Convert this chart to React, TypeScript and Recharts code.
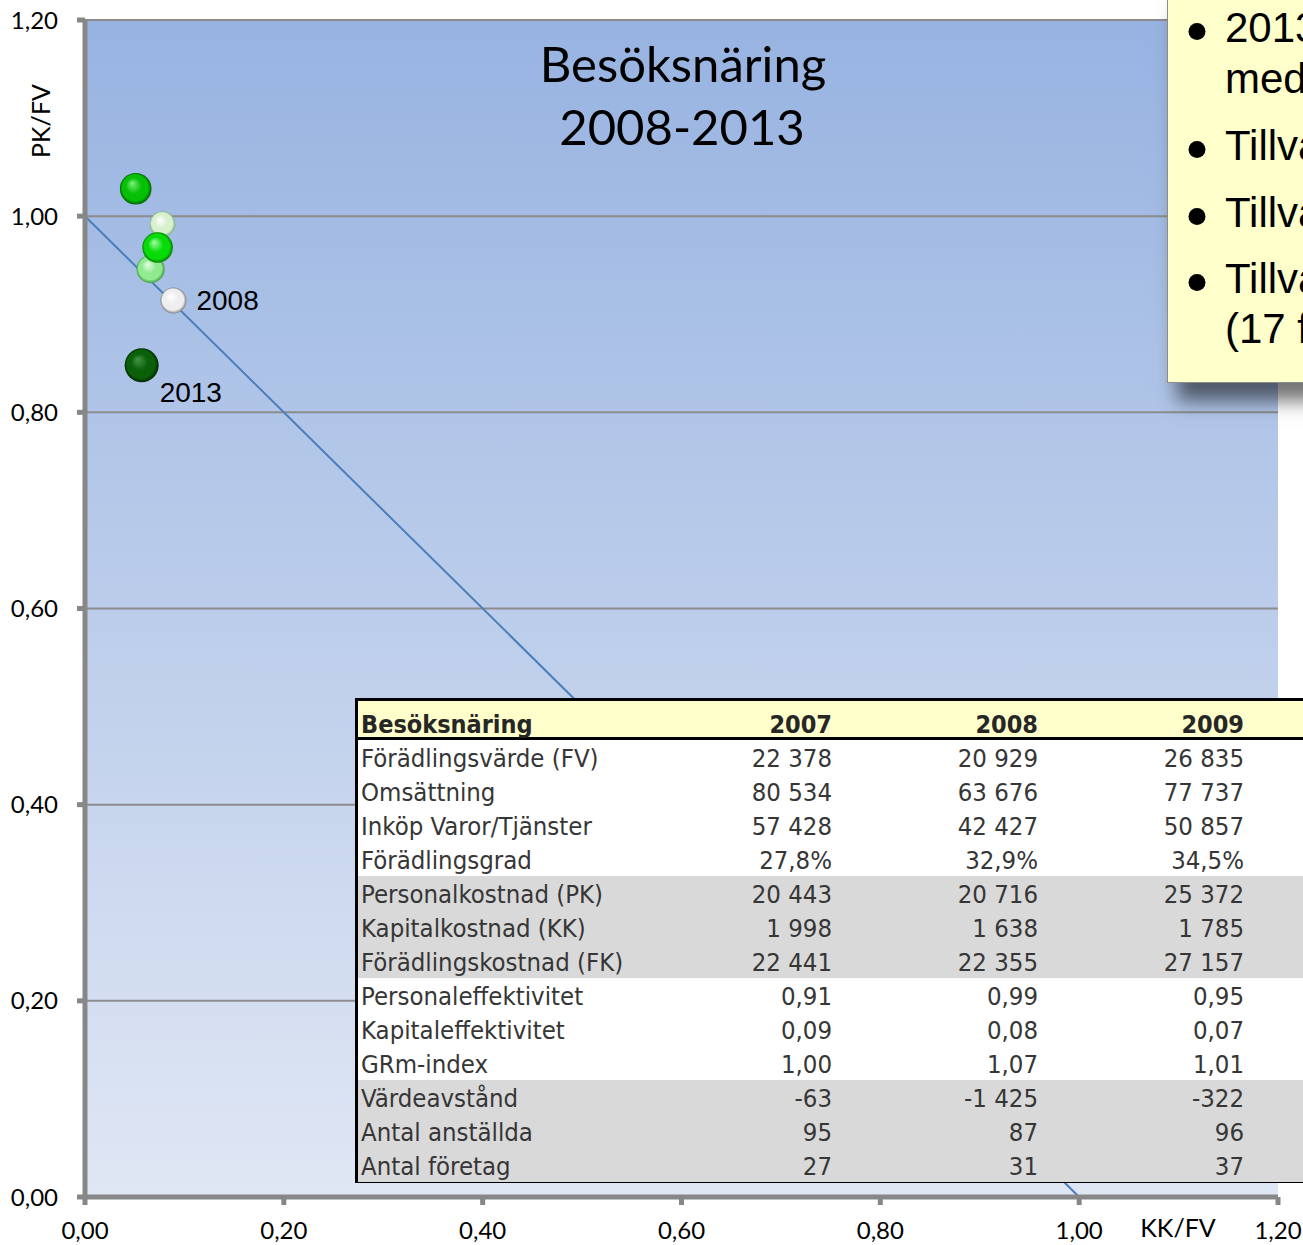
import React from 'react';
import { ScatterChart, Scatter, XAxis, YAxis, CartesianGrid, ReferenceLine } from 'recharts';

// ---------- chart data ----------
const axisTicks = [0, 0.2, 0.4, 0.6, 0.8, 1.0, 1.2];
const pointLabels = ['2008', '', '', '', '', '2013'];
const kkPerFv = [0.089, 0.078, 0.066, 0.073, 0.051, 0.057];
const pkPerFv = [0.914, 0.992, 0.946, 0.968, 1.028, 0.848];
const pointTones = ['white', 'pale', 'light', 'bright', 'mid', 'dark'];

const titleLines = ['Besöksnäring', '2008-2013'];
const xAxisTitle = 'KK/FV';
const yAxisTitle = 'PK/FV';

// ---------- table data ----------
const tableTitle = 'Besöksnäring';
const tableYears = ['2007', '2008', '2009'];
const rowLabels = [
  'Förädlingsvärde (FV)',
  'Omsättning',
  'Inköp Varor/Tjänster',
  'Förädlingsgrad',
  'Personalkostnad (PK)',
  'Kapitalkostnad (KK)',
  'Förädlingskostnad (FK)',
  'Personaleffektivitet',
  'Kapitaleffektivitet',
  'GRm-index',
  'Värdeavstånd',
  'Antal anställda',
  'Antal företag',
];
const values2007 = ['22 378', '80 534', '57 428', '27,8%', '20 443', '1 998', '22 441', '0,91', '0,09', '1,00', '-63', '95', '27'];
const values2008 = ['20 929', '63 676', '42 427', '32,9%', '20 716', '1 638', '22 355', '0,99', '0,08', '1,07', '-1 425', '87', '31'];
const values2009 = ['26 835', '77 737', '50 857', '34,5%', '25 372', '1 785', '27 157', '0,95', '0,07', '1,01', '-322', '96', '37'];
const rowShaded = [false, false, false, false, true, true, true, false, false, false, true, true, true];

// ---------- text box data ----------
const boxBullets = [['2013', 'med'], ['Tillva'], ['Tillva'], ['Tillva', '(17 f']];

// ---------- styles ----------
const toneStyle: Record<string, { r: number; hi: string; base: string; edge: string }> = {
  white: { r: 13, hi: '#ffffff', base: '#eeeeee', edge: '#808080' },
  pale: { r: 12.8, hi: '#ffffff', base: '#d8f0ce', edge: '#7aae7a' },
  light: { r: 14, hi: '#e6ffe6', base: '#90ea90', edge: '#3f9c3f' },
  bright: { r: 15.3, hi: '#a8ffa8', base: '#08dc08', edge: '#037a03' },
  mid: { r: 15.8, hi: '#80f080', base: '#06c006', edge: '#026002' },
  dark: { r: 17, hi: '#459545', base: '#096009', edge: '#012801' },
};
const labelOffset: Record<string, [number, number]> = { '2008': [23, 9], '2013': [18, 37] };

const points = kkPerFv.map((x, i) => ({ x, y: pkPerFv[i], label: pointLabels[i], tone: pointTones[i] }));

const fmt = (v: number) => v.toFixed(2).replace('.', ',');

const Sphere = (props: any) => {
  const { cx, cy, payload } = props;
  const st = toneStyle[payload.tone];
  const off = labelOffset[payload.label];
  return (
    <g>
      <circle cx={cx} cy={cy} r={st.r} fill={`url(#sph-${payload.tone})`} />
      {payload.label ? (
        <text x={cx + off[0]} y={cy + off[1]} fontFamily="'Liberation Sans', Arial, sans-serif" fontSize={28} fill="#000">
          {payload.label}
        </text>
      ) : null}
    </g>
  );
};

const tableFont = "'DejaVu Sans Condensed', 'DejaVu Sans', sans-serif";

const DataTable = () => {
  const left = 355;
  const top = 698;
  const rowH = 34;
  const firstRowTop = 740;
  const rightEdges = [832, 1038, 1244];
  const yearCols = [values2007, values2008, values2009];
  return (
    <svg width={1303} height={1245} style={{ position: 'absolute', left: 0, top: 0, pointerEvents: 'none' }}>
      <rect x={left} y={top} width={1100} height={1183 - top} fill="#000" />
      <rect x={left + 3} y={top + 3} width={1100} height={36} fill="#ffffcc" />
      {rowLabels.map((lab, i) => (
        <rect key={'bg' + i} x={left + 3} y={firstRowTop + i * rowH} width={1100} height={rowH} fill={rowShaded[i] ? '#d9d9d9' : '#ffffff'} />
      ))}
      <text x={361} y={733} fontFamily={tableFont} fontStretch="condensed" fontWeight="bold" fontSize={25} fill="#262626">
        {tableTitle}
      </text>
      {tableYears.map((yr, j) => (
        <text key={yr} x={rightEdges[j]} y={733} textAnchor="end" fontFamily={tableFont} fontStretch="condensed" fontWeight="bold" fontSize={25} fill="#262626">
          {yr}
        </text>
      ))}
      {rowLabels.map((lab, i) => (
        <g key={'row' + i}>
          <text x={361} y={767 + i * rowH} fontFamily={tableFont} fontStretch="condensed" fontSize={25.5} fill="#363636">
            {lab}
          </text>
          {yearCols.map((col, j) => (
            <text key={j} x={rightEdges[j]} y={767 + i * rowH} textAnchor="end" fontFamily={tableFont} fontStretch="condensed" fontSize={25.5} fill="#363636">
              {col[i]}
            </text>
          ))}
        </g>
      ))}
    </svg>
  );
};

const TextBox = () => {
  const boxLeft = 1167;
  const boxTop = -10;
  const baselines = [[42, 93], [160], [227], [293, 343]];
  return (
    <div
      style={{
        position: 'absolute',
        left: boxLeft,
        top: boxTop,
        width: 400,
        height: 383 - boxTop,
        boxSizing: 'border-box',
        background: '#ffffcc',
        border: '1px solid #8c8c8c',
        boxShadow: '10px 18px 18px rgba(0,0,0,0.55)',
      }}
    >
      <svg width={400} height={400} style={{ position: 'absolute', left: -1, top: -1 }}>
        {boxBullets.map((lines, i) => (
          <g key={i}>
            <circle cx={1197 - boxLeft} cy={baselines[i][0] - 10.5 - boxTop} r={8.5} fill="#000" />
            {lines.map((t, k) => (
              <text key={k} x={1225 - boxLeft} y={baselines[i][k] - boxTop} fontFamily="'Liberation Sans', Arial, sans-serif" fontSize={42} fill="#000">
                {t}
              </text>
            ))}
          </g>
        ))}
      </svg>
    </div>
  );
};

export default function App() {
  const axisColor = '#878787';
  const tickFont = { fontFamily: 'Lato, sans-serif', fontSize: 24, fill: '#000' };
  return (
    <div style={{ position: 'absolute', left: 0, top: 0, width: 1303, height: 1245, overflow: 'hidden', background: '#fff' }}>
      <div style={{ position: 'absolute', left: 0, top: 0 }}>
        <ScatterChart width={1303} height={1245} margin={{ top: 20, right: 25, bottom: 0, left: 0 }}>
          <defs>
            <linearGradient id="plotBg" x1="0" y1="0" x2="0" y2="1">
              <stop offset="0%" stopColor="#97b3e1" />
              <stop offset="100%" stopColor="#e0e7f4" />
            </linearGradient>
            {Object.keys(toneStyle).map((k) => (
              <radialGradient key={k} id={`sph-${k}`} cx="50%" cy="50%" r="50%" fx="38%" fy="32%">
                <stop offset="0%" stopColor={toneStyle[k].hi} />
                <stop offset="50%" stopColor={toneStyle[k].base} />
                <stop offset="82%" stopColor={toneStyle[k].base} />
                <stop offset="100%" stopColor={toneStyle[k].edge} />
              </radialGradient>
            ))}
          </defs>
          <CartesianGrid vertical={false} stroke="#8c8c8c" strokeWidth={2} fill="url(#plotBg)" fillOpacity={1} />
          <XAxis
            type="number"
            dataKey="x"
            domain={[0, 1.2]}
            ticks={axisTicks}
            tickFormatter={fmt}
            height={48}
            tickSize={8}
            tickMargin={17}
            axisLine={{ stroke: axisColor, strokeWidth: 5 }}
            tickLine={{ stroke: axisColor, strokeWidth: 5 }}
            tick={tickFont}
            interval={0}
          />
          <YAxis
            type="number"
            dataKey="y"
            domain={[0, 1.2]}
            ticks={axisTicks}
            tickFormatter={fmt}
            width={85}
            tickSize={8}
            tickMargin={19}
            axisLine={{ stroke: axisColor, strokeWidth: 5 }}
            tickLine={{ stroke: axisColor, strokeWidth: 5 }}
            tick={tickFont}
            interval={0}
          />
          <ReferenceLine
            segment={[{ x: 0, y: 1 }, { x: 1, y: 0 }]}
            stroke="#4a7ebb"
            strokeWidth={2}
            ifOverflow="visible"
          />
          <Scatter data={points} shape={Sphere} isAnimationActive={false} />
          <text x={683} y={82} textAnchor="middle" fontFamily="Lato, sans-serif" fontSize={49} fill="#000">
            {titleLines[0]}
          </text>
          <text x={682} y={145} textAnchor="middle" fontFamily="Lato, sans-serif" fontSize={49} fill="#000">
            {titleLines[1]}
          </text>
          <text x={1178} y={1237} textAnchor="middle" fontFamily="Lato, sans-serif" fontSize={25} fill="#000">
            {xAxisTitle}
          </text>
          <text
            x={40}
            y={121}
            textAnchor="middle"
            dominantBaseline="central"
            transform="rotate(-90, 40, 121)"
            fontFamily="Lato, sans-serif"
            fontSize={25}
            fill="#000"
          >
            {yAxisTitle}
          </text>
        </ScatterChart>
      </div>
      <DataTable />
      <TextBox />
    </div>
  );
}
